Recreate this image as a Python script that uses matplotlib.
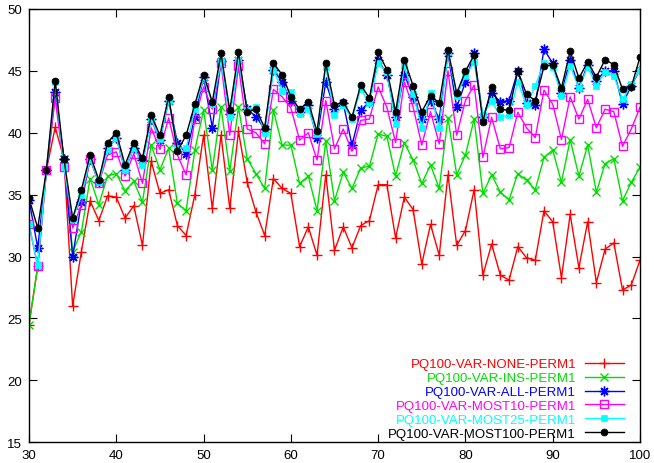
import matplotlib
matplotlib.use("Agg")
import matplotlib.pyplot as plt
import numpy as np

x = list(range(30, 101))

none_vals = [24.5, 29.2, 37.0, 40.45, 37.9, 26.0, 30.4, 34.5, 32.9, 34.9,
             34.8, 33.1, 34.1, 30.9, 37.7, 35.1, 35.4, 32.5, 31.7, 35.0,
             39.8, 33.9, 39.8, 33.9, 40.1, 36.0, 33.6, 31.7, 36.3, 35.5,
             35.1, 30.8, 32.4, 30.1, 36.6, 30.5, 32.4, 30.7, 32.5, 32.9,
             35.8, 35.8, 31.5, 34.8, 33.8, 29.4, 32.6, 30.1, 36.6, 30.9,
             32.1, 35.4, 28.5, 31.0, 28.5, 28.1, 30.8, 29.9, 29.7, 33.7,
             32.8, 28.3, 33.4, 29.1, 32.8, 27.9, 30.6, 31.1, 27.3, 27.7,
             29.7]

ins_vals = [24.5, 29.2, 37.0, 42.9, 37.9, 30.4, 32.0, 36.3, 34.2, 36.5,
            36.7, 35.3, 36.1, 34.4, 39.0, 37.0, 38.75, 34.3, 33.7, 38.6,
            41.8, 37.0, 42.05, 36.9, 42.05, 37.9, 36.7, 35.5, 41.8, 39.0,
            39.0, 35.9, 36.5, 33.7, 39.3, 34.5, 36.8, 35.5, 37.15, 37.3,
            39.9, 39.7, 36.5, 39.2, 37.8, 35.9, 37.4, 35.5, 41.2, 36.6,
            38.2, 41.1, 35.1, 36.6, 35.2, 34.6, 36.7, 36.15, 35.4, 38.0,
            38.6, 36.0, 39.45, 36.5, 39.0, 35.2, 37.5, 37.9, 34.5, 36.0,
            37.2]

all_vals = [34.6, 30.7, 37.0, 43.3, 37.9, 30.0, 34.4, 37.9, 36.0, 38.8,
            39.6, 37.0, 38.8, 37.8, 41.1, 39.4, 42.6, 39.2, 38.3, 41.25,
            44.5, 40.4, 45.8, 41.5, 45.9, 41.9, 41.3, 40.3, 45.1, 44.1,
            42.6, 41.7, 42.2, 39.6, 44.1, 41.9, 42.4, 39.0, 41.8, 42.5,
            45.9, 44.7, 41.25, 44.7, 42.9, 41.1, 42.6, 41.1, 46.4, 42.05,
            44.1, 46.4, 41.25, 43.2, 42.5, 42.6, 45.0, 42.4, 42.2, 46.75,
            45.6, 43.2, 45.9, 43.6, 45.5, 44.2, 45.0, 45.0, 42.3, 43.8,
            45.1]

most10_vals = [32.6, 29.2, 37.0, 42.8, 37.2, 32.3, 34.2, 37.9, 35.9, 38.2,
               38.45, 36.5, 38.3, 35.9, 40.4, 38.65, 41.2, 38.2, 36.6, 41.1,
               43.7, 41.9, 45.6, 39.8, 45.35, 40.3, 40.0, 39.1, 43.5, 42.9,
               42.0, 39.4, 40.0, 37.8, 42.6, 38.7, 40.3, 38.5, 41.0, 41.1,
               43.7, 42.05, 39.2, 44.1, 42.1, 39.0, 41.7, 39.1, 45.0, 39.8,
               42.6, 43.85, 38.0, 41.25, 38.7, 38.8, 41.65, 40.4, 39.6, 43.45,
               42.3, 39.45, 42.9, 41.1, 42.7, 40.4, 41.9, 41.7, 38.9, 40.3,
               42.05]

most25_vals = [32.6, 29.3, 37.0, 44.1, 37.25, 33.0, 34.95, 37.9, 36.0, 38.7,
               39.6, 37.0, 38.8, 37.4, 41.1, 39.5, 42.6, 38.8, 38.75, 41.9,
               44.5, 42.3, 45.8, 41.3, 45.9, 41.8, 42.1, 40.0, 45.1, 43.4,
               43.3, 41.5, 41.9, 39.9, 45.3, 41.4, 42.2, 41.1, 43.5, 42.4,
               45.6, 44.9, 40.7, 45.4, 43.1, 40.4, 43.2, 40.4, 46.5, 43.0,
               44.6, 45.7, 41.4, 42.6, 41.3, 41.4, 44.1, 42.2, 43.8, 45.6,
               45.3, 43.0, 45.4, 43.6, 45.3, 43.8, 44.9, 44.6, 42.7, 43.9,
               45.1]

most100_vals = [34.7, 32.3, 37.0, 44.2, 37.9, 33.1, 35.4, 38.2, 36.2, 39.2,
                40.0, 37.4, 39.2, 37.95, 41.4, 39.8, 42.9, 38.5, 39.8, 42.3,
                44.7, 42.5, 46.4, 41.8, 46.5, 41.65, 41.9, 40.4, 45.6, 44.7,
                42.9, 41.9, 42.5, 40.1, 45.6, 42.2, 42.5, 41.25, 43.85, 42.8,
                46.5, 45.1, 41.7, 45.9, 43.8, 41.7, 43.0, 42.4, 46.7, 43.2,
                44.95, 46.3, 40.9, 43.7, 41.9, 41.8, 45.0, 43.1, 42.6, 45.35,
                45.5, 43.6, 46.6, 44.4, 45.7, 44.5, 45.9, 45.5, 43.5, 43.7,
                46.1]

labels = ["PQ100-VAR-NONE-PERM1", "PQ100-VAR-INS-PERM1", "PQ100-VAR-ALL-PERM1",
          "PQ100-VAR-MOST10-PERM1", "PQ100-VAR-MOST25-PERM1", "PQ100-VAR-MOST100-PERM1"]
x_ticks = [30, 40, 50, 60, 70, 80, 90, 100]
y_ticks = [15, 20, 25, 30, 35, 40, 45, 50]

plt.rcParams['font.family'] = ['Liberation Sans', 'DejaVu Sans']

fig = plt.figure(figsize=(6.54, 4.64), dpi=100)
ax = fig.add_axes([29/654, 20.7/464, (640-29)/654, (443.3-9.9)/464])

styles = [
    dict(color='#ff0000', marker='+', ms=7, mew=1.0),
    dict(color='#00e000', marker='x', ms=5.5, mew=1.0),
    dict(color='#0000ff', marker=(8, 2, 0), ms=7, mew=1.0),
    dict(color='#ff00ff', marker='s', ms=5.5, mfc='none', mew=1.0),
    dict(color='#00ffff', marker='s', ms=5, mew=0.5),
    dict(color='#000000', marker='o', ms=5, mew=0.5),
]
series = [none_vals, ins_vals, all_vals, most10_vals, most25_vals, most100_vals]

handles = []
for vals, lab, st in zip(series, labels, styles):
    h, = ax.plot(x, vals, lw=1.0, label=lab, **st)
    handles.append(h)

ax.set_xlim(30, 100)
ax.set_ylim(15, 50)
ax.set_xticks(x_ticks)
ax.set_yticks(y_ticks)
ax.tick_params(direction='in', length=6, width=0.8, top=True, right=True,
               labelsize=9.5, pad=5)
for sp in ax.spines.values():
    sp.set_linewidth(1.0)

leg = ax.legend(handles=handles, loc='lower right', bbox_to_anchor=(0.986, -0.012),
                markerfirst=False, frameon=False, fontsize=9.5,
                labelcolor='linecolor', handlelength=2.9, handletextpad=0.7,
                labelspacing=0.12, borderaxespad=0.2, alignment='right')

fig.savefig("out.png", dpi=100)
